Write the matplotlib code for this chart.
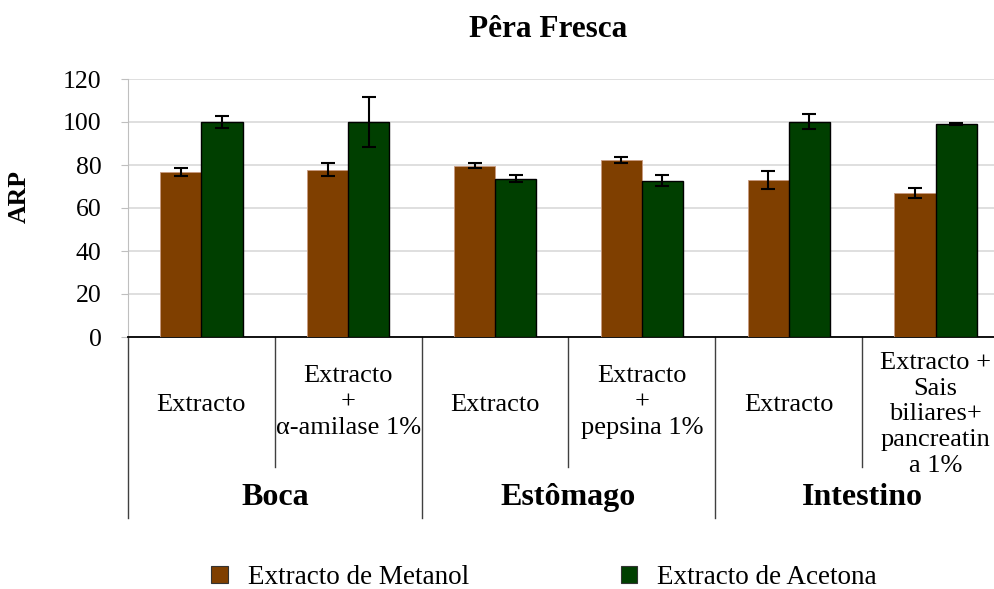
import numpy as np
import matplotlib
matplotlib.use("Agg")
import matplotlib.pyplot as plt
from matplotlib.patches import Patch
import matplotlib.transforms as mtransforms

plt.rcParams['font.family'] = ['Liberation Serif', 'DejaVu Serif']

# data
sub_labels = ["Extracto", "Extracto\n+\n\u03b1-amilase 1%", "Extracto",
              "Extracto\n+\npepsina 1%", "Extracto",
              "Extracto +\nSais\nbiliares+\npancreatin\na 1%"]
groups = ["Boca", "Est\u00f4mago", "Intestino"]
metanol = [76.8, 77.7, 79.7, 82.3, 73.0, 66.8]
metanol_err = [1.8, 3.0, 1.1, 1.2, 4.0, 2.3]
acetona = [100.0, 100.0, 73.7, 72.7, 100.2, 98.9]
acetona_err = [2.6, 11.7, 1.8, 2.5, 3.5, 0.5]
legend_labels = ["Extracto de Metanol", "Extracto de Acetona"]
title = "P\u00eara Fresca"
ylabel = "ARP"

col_met = "#7F3F00"
col_ace = "#003F00"

fig = plt.figure(figsize=(9.95, 5.89), dpi=100)
ax = fig.add_axes([128 / 995, 252 / 589, 881 / 995, 258 / 589])

x = np.arange(len(sub_labels))
w = 0.28
ekw = dict(ecolor="black", elinewidth=1.5, capsize=5, capthick=1.5)
ax.bar(x - w / 2, metanol, w, color=col_met, edgecolor="#c89a80", linewidth=0.6,
       yerr=metanol_err, error_kw=ekw, zorder=3)
ax.bar(x + w / 2, acetona, w, color=col_ace, edgecolor="black", linewidth=1.0,
       yerr=acetona_err, error_kw=ekw, zorder=3)

ax.set_xlim(-0.5, len(sub_labels) - 0.5)
ax.set_ylim(0, 120)
ax.set_yticks(np.arange(0, 121, 20))
ax.tick_params(axis="y", labelsize=18.5, length=5, color="#BFBFBF", pad=14)
ax.set_xticks([])
ax.grid(axis="y", color="#D9D9D9", linewidth=1.2, zorder=0)
ax.set_axisbelow(True)
for s in ["top", "right"]:
    ax.spines[s].set_visible(False)
ax.spines["left"].set_color("#BFBFBF")
ax.spines["bottom"].set_color("black")
ax.spines["bottom"].set_linewidth(1.3)

# hierarchical category axis below the plot
trans = mtransforms.blended_transform_factory(ax.transData, ax.transAxes)
for i in range(len(sub_labels) + 1):
    xb = i - 0.5
    y_end = -0.702 if i % 2 == 0 else -0.504
    ax.plot([xb, xb], [0, y_end], color="#404040", lw=1.0, transform=trans, clip_on=False)

sub_y = [-0.262, -0.252, -0.262, -0.252, -0.262, -0.300]
for i, lab in enumerate(sub_labels):
    ax.text(i, sub_y[i], lab, transform=trans, ha="center", va="center",
            fontsize=19, linespacing=1.22)

for g, name in enumerate(groups):
    ax.text(2 * g + 0.5, -0.624, name, transform=trans, ha="center", va="center",
            fontsize=23, fontweight="bold")

fig.text(0.551, 0.950, title, ha="center", va="center", fontsize=22.5, fontweight="bold")
fig.text(0.019, 0.667, ylabel, ha="center", va="center", rotation=90,
         fontsize=18.5, fontweight="bold")

handles = [Patch(facecolor=col_met, edgecolor="#333333", linewidth=0.8),
           Patch(facecolor=col_ace, edgecolor="#333333", linewidth=0.8)]
fig.legend(handles, legend_labels, loc="center", bbox_to_anchor=(0.547, 0.019),
           ncol=2, frameon=False, fontsize=19.5, handlelength=0.6, handleheight=0.6,
           handletextpad=0.75, columnspacing=5.6)

fig.savefig("out.png", dpi=100)
